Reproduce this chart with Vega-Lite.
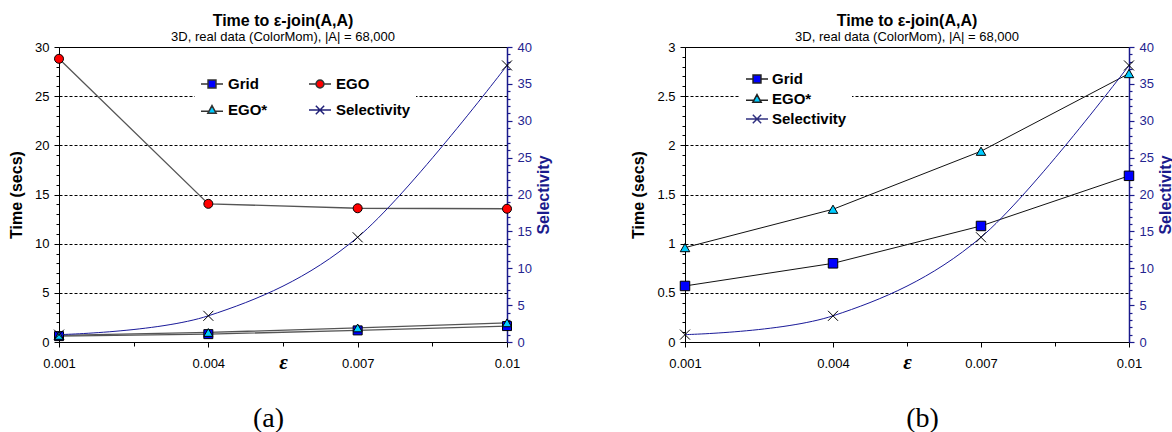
{
  "$schema": "https://vega.github.io/schema/vega-lite/v6.json",
  "background": "white",
  "padding": {"left": 8, "top": 12, "right": 0, "bottom": 0},
  "config": {
    "view": {"stroke": "black", "strokeWidth": 1},
    "font": "Liberation Sans"
  },
  "datasets": {
    "a": [
      {"eps": 0.001, "series": "Grid", "value": 0.6},
      {"eps": 0.004, "series": "Grid", "value": 0.8},
      {"eps": 0.007, "series": "Grid", "value": 1.18},
      {"eps": 0.01, "series": "Grid", "value": 1.62},
      {"eps": 0.001, "series": "EGO", "value": 28.8},
      {"eps": 0.004, "series": "EGO", "value": 14.05},
      {"eps": 0.007, "series": "EGO", "value": 13.6},
      {"eps": 0.01, "series": "EGO", "value": 13.55},
      {"eps": 0.001, "series": "EGO*", "value": 0.67},
      {"eps": 0.004, "series": "EGO*", "value": 0.97},
      {"eps": 0.007, "series": "EGO*", "value": 1.43},
      {"eps": 0.01, "series": "EGO*", "value": 1.95},
      {"eps": 0.001, "series": "Selectivity", "value": 1.0},
      {"eps": 0.004, "series": "Selectivity", "value": 3.55},
      {"eps": 0.007, "series": "Selectivity", "value": 14.2},
      {"eps": 0.01, "series": "Selectivity", "value": 37.5}
    ],
    "b": [
      {"eps": 0.001, "series": "Grid", "value": 0.57},
      {"eps": 0.004, "series": "Grid", "value": 0.8},
      {"eps": 0.007, "series": "Grid", "value": 1.18},
      {"eps": 0.01, "series": "Grid", "value": 1.69},
      {"eps": 0.001, "series": "EGO*", "value": 0.96},
      {"eps": 0.004, "series": "EGO*", "value": 1.35},
      {"eps": 0.007, "series": "EGO*", "value": 1.94},
      {"eps": 0.01, "series": "EGO*", "value": 2.73},
      {"eps": 0.001, "series": "Selectivity", "value": 1.0},
      {"eps": 0.004, "series": "Selectivity", "value": 3.55},
      {"eps": 0.007, "series": "Selectivity", "value": 14.2},
      {"eps": 0.01, "series": "Selectivity", "value": 37.5}
    ]
  },
  "spacing": 78,
  "resolve": {"scale": {"x": "independent", "y": "independent", "shape": "independent", "fill": "independent", "stroke": "independent"}, "legend": {"shape": "independent", "fill": "independent", "stroke": "independent"}},
  "hconcat": [
    {
      "width": 448,
      "height": 295,
      "title": {"text": "Time to ε-join(A,A)", "subtitle": "3D, real data (ColorMom), |A| = 68,000", "anchor": "middle", "font": "Liberation Sans", "fontSize": 16, "fontWeight": "bold", "color": "black", "subtitleFont": "Liberation Sans", "subtitleFontSize": 13, "subtitleColor": "black", "subtitlePadding": 2, "offset": -3},
      "data": {"name": "a"},
      "layer": [
        {
          "transform": [{"filter": "datum.series !== 'Selectivity'"}],
          "encoding": {
            "x": {
              "field": "eps", "type": "quantitative",
              "scale": {"domain": [0.001, 0.01], "nice": false, "zero": false},
              "axis": {
                "orient": "bottom",
                "values": [0.001, 0.0025, 0.004, 0.0055, 0.007, 0.0085, 0.01],
                "labelExpr": "(datum.value === 0.0025 || datum.value === 0.0055 || datum.value === 0.0085) ? '' : format(datum.value, '.3~f')",
                "tickSize": {"condition": {"test": "datum.value === 0.0025 || datum.value === 0.0055 || datum.value === 0.0085", "value": 4}, "value": 5},
                "grid": false, "labelFlush": false, "labelOverlap": false,
                "domainColor": "black", "tickColor": "black", "labelColor": "black",
                "labelFont": "Liberation Sans", "labelFontSize": 13, "labelPadding": 10,
                "title": "ε", "titleFont": "Liberation Serif", "titleFontSize": 21, "titleFontStyle": "italic", "titleFontWeight": "bold", "titleColor": "black",
                "titleX": 224, "titleY": 26, "titleBaseline": "alphabetic"
              }
            },
            "y": {
              "field": "value", "type": "quantitative",
              "scale": {"domain": [0, 30], "nice": false},
              "axis": {
                "orient": "left",
                "values": [0,1,2,3,4,5,6,7,8,9,10,11,12,13,14,15,16,17,18,19,20,21,22,23,24,25,26,27,28,29,30],
                "labelExpr": "datum.value % 5 === 0 ? format(datum.value, '~g') : ''",
                "tickSize": {"condition": {"test": "datum.value % 5 === 0", "value": 5}, "value": 3},
                "grid": true, "gridColor": "black", "gridDash": [3, 2], "gridWidth": 1,
                "gridOpacity": {"condition": {"test": "datum.value % 5 === 0 && datum.value > 0 && datum.value < 30", "value": 1}, "value": 0},
                "labelOverlap": false, "labelFlush": false,
                "domainColor": "black", "tickColor": "black", "labelColor": "black",
                "labelFont": "Liberation Sans", "labelFontSize": 13, "labelPadding": 5,
                "title": "Time (secs)", "titleFont": "Liberation Sans", "titleFontSize": 16, "titleFontWeight": "bold", "titleColor": "black", "titlePadding": 10
              }
            }
          },
          "layer": [
            {"mark": {"type": "line", "stroke": "#555555", "strokeWidth": 1.3}, "encoding": {"detail": {"field": "series", "type": "nominal"}}},
            {
              "mark": {"type": "point", "filled": true, "stroke": "black", "strokeWidth": 1, "size": 81, "opacity": 1},
              "encoding": {
                "shape": {"field": "series", "type": "nominal", "scale": {"domain": ["Grid", "EGO*", "EGO"], "range": ["square", "triangle-up", "circle"]}, "legend": null},
                "fill": {"field": "series", "type": "nominal", "scale": {"domain": ["Grid", "EGO*", "EGO"], "range": ["#0000ff", "#00ccff", "#ff0000"]}, "legend": null}
              }
            }
          ]
        },
        {
          "transform": [{"filter": "datum.series === 'Selectivity'"}],
          "encoding": {
            "x": {
              "field": "eps", "type": "quantitative",
              "scale": {"domain": [0.001, 0.01], "nice": false, "zero": false},
              "axis": {
                "orient": "bottom", "labels": false, "ticks": false, "domain": false, "grid": false,
                "title": "(a)", "titleFont": "Liberation Serif", "titleFontSize": 28, "titleFontWeight": "normal", "titleColor": "black",
                "titleX": 209, "titleY": 76, "titleBaseline": "middle"
              }
            },
            "y": {
              "field": "value", "type": "quantitative",
              "scale": {"domain": [0, 40], "nice": false},
              "axis": {
                "orient": "right",
                "values": [0,1,2,3,4,5,6,7,8,9,10,11,12,13,14,15,16,17,18,19,20,21,22,23,24,25,26,27,28,29,30,31,32,33,34,35,36,37,38,39,40],
                "labelExpr": "datum.value % 5 === 0 ? format(datum.value, '~g') : ''",
                "tickSize": {"condition": {"test": "datum.value % 5 === 0", "value": 5}, "value": 3},
                "grid": false, "labelOverlap": false, "labelFlush": false,
                "domainColor": "#1a1a8c", "domainWidth": 1.5, "tickColor": "#1a1a8c", "tickWidth": 1.2, "labelColor": "#24248f",
                "labelFont": "Liberation Sans", "labelFontSize": 13, "labelPadding": 5,
                "title": "Selectivity", "titleFont": "Liberation Sans", "titleFontSize": 16, "titleFontWeight": "bold", "titleColor": "#1a1a8c",
                "titleAngle": 270, "titleBaseline": "top", "titlePadding": 4
              }
            }
          },
          "layer": [
            {"mark": {"type": "line", "stroke": "#1a1a99", "strokeWidth": 1, "interpolate": "cardinal"}, "encoding": {}},
            {"mark": {"type": "point", "shape": "M-1,-1L1,1M-1,1L1,-1", "filled": false, "stroke": "black", "strokeWidth": 1, "size": 100, "opacity": 1}, "encoding": {}}
          ]
        },
        {
          "transform": [{"filter": "false"}],
          "mark": {"type": "point", "filled": true, "strokeWidth": 1, "opacity": 1},
          "encoding": {
            "shape": {
              "field": "series", "type": "nominal",
              "scale": {"domain": ["Grid", "EGO*", "EGO", "Selectivity"], "range": [
                "M-1,0H-0.36M0.36,0H1M-0.36,-0.36H0.36V0.36H-0.36Z",
                "M-1,0.12H-0.3M0.3,0.12H1M0,-0.4L0.38,0.3H-0.38Z",
                "M-1,0H-0.36M0.36,0H1M-0.36,0A0.36,0.36 0 1 0 0.36,0A0.36,0.36 0 1 0 -0.36,0Z",
                "M-1,0H1M-0.38,-0.38L0.38,0.38M-0.38,0.38L0.38,-0.38"
              ]},
              "legend": {
                "title": null, "orient": "none", "legendX": 136, "legendY": 20, "columns": 2, "columnPadding": 38, "rowPadding": 6,
                "padding": 5, "fillColor": "white", "symbolSize": 484, "symbolOpacity": 1, "labelOffset": 4,
                "labelFont": "Liberation Sans", "labelFontSize": 15, "labelFontWeight": "bold", "labelColor": "black", "labelLimit": 300
              }
            },
            "fill": {
              "field": "series", "type": "nominal",
              "scale": {"domain": ["Grid", "EGO*", "EGO", "Selectivity"], "range": ["#0000ff", "#00ccff", "#ff0000", "transparent"]},
              "legend": {
                "title": null, "orient": "none", "legendX": 136, "legendY": 20, "columns": 2, "columnPadding": 38, "rowPadding": 6,
                "padding": 5, "fillColor": "white", "symbolSize": 484, "symbolOpacity": 1, "labelOffset": 4,
                "labelFont": "Liberation Sans", "labelFontSize": 15, "labelFontWeight": "bold", "labelColor": "black", "labelLimit": 300
              }
            },
            "stroke": {
              "field": "series", "type": "nominal",
              "scale": {"domain": ["Grid", "EGO*", "EGO", "Selectivity"], "range": ["#333333", "#333333", "#333333", "#202078"]},
              "legend": {
                "title": null, "orient": "none", "legendX": 136, "legendY": 20, "columns": 2, "columnPadding": 38, "rowPadding": 6,
                "padding": 5, "fillColor": "white", "symbolSize": 484, "symbolOpacity": 1, "labelOffset": 4,
                "labelFont": "Liberation Sans", "labelFontSize": 15, "labelFontWeight": "bold", "labelColor": "black", "labelLimit": 300
              }
            }
          }
        }
      ],
      "resolve": {"scale": {"y": "independent", "shape": "independent", "fill": "independent", "stroke": "independent"}, "axis": {"x": "independent"}}
    },
    {
      "width": 444,
      "height": 295,
      "title": {"text": "Time to ε-join(A,A)", "subtitle": "3D, real data (ColorMom), |A| = 68,000", "anchor": "middle", "font": "Liberation Sans", "fontSize": 16, "fontWeight": "bold", "color": "black", "subtitleFont": "Liberation Sans", "subtitleFontSize": 13, "subtitleColor": "black", "subtitlePadding": 2, "offset": -3},
      "data": {"name": "b"},
      "layer": [
        {
          "transform": [{"filter": "datum.series !== 'Selectivity'"}],
          "encoding": {
            "x": {
              "field": "eps", "type": "quantitative",
              "scale": {"domain": [0.001, 0.01], "nice": false, "zero": false},
              "axis": {
                "orient": "bottom",
                "values": [0.001, 0.0025, 0.004, 0.0055, 0.007, 0.0085, 0.01],
                "labelExpr": "(datum.value === 0.0025 || datum.value === 0.0055 || datum.value === 0.0085) ? '' : format(datum.value, '.3~f')",
                "tickSize": {"condition": {"test": "datum.value === 0.0025 || datum.value === 0.0055 || datum.value === 0.0085", "value": 4}, "value": 5},
                "grid": false, "labelFlush": false, "labelOverlap": false,
                "domainColor": "black", "tickColor": "black", "labelColor": "black",
                "labelFont": "Liberation Sans", "labelFontSize": 13, "labelPadding": 10,
                "title": "ε", "titleFont": "Liberation Serif", "titleFontSize": 21, "titleFontStyle": "italic", "titleFontWeight": "bold", "titleColor": "black",
                "titleX": 222, "titleY": 26, "titleBaseline": "alphabetic"
              }
            },
            "y": {
              "field": "value", "type": "quantitative",
              "scale": {"domain": [0, 3], "nice": false},
              "axis": {
                "orient": "left",
                "values": [0,0.1,0.2,0.3,0.4,0.5,0.6,0.7,0.8,0.9,1,1.1,1.2,1.3,1.4,1.5,1.6,1.7,1.8,1.9,2,2.1,2.2,2.3,2.4,2.5,2.6,2.7,2.8,2.9,3],
                "labelExpr": "round(datum.value * 10) % 5 === 0 ? format(datum.value, '~g') : ''",
                "tickSize": {"condition": {"test": "round(datum.value * 10) % 5 === 0", "value": 5}, "value": 3},
                "grid": true, "gridColor": "black", "gridDash": [3, 2], "gridWidth": 1,
                "gridOpacity": {"condition": {"test": "round(datum.value * 10) % 5 === 0 && datum.value > 0.05 && datum.value < 2.95", "value": 1}, "value": 0},
                "labelOverlap": false, "labelFlush": false,
                "domainColor": "black", "tickColor": "black", "labelColor": "black",
                "labelFont": "Liberation Sans", "labelFontSize": 13, "labelPadding": 5,
                "title": "Time (secs)", "titleFont": "Liberation Sans", "titleFontSize": 16, "titleFontWeight": "bold", "titleColor": "black", "titlePadding": 10
              }
            }
          },
          "layer": [
            {"mark": {"type": "line", "stroke": "#111111", "strokeWidth": 1}, "encoding": {"detail": {"field": "series", "type": "nominal"}}},
            {
              "mark": {"type": "point", "filled": true, "stroke": "black", "strokeWidth": 1, "size": 90, "opacity": 1},
              "encoding": {
                "shape": {"field": "series", "type": "nominal", "scale": {"domain": ["Grid", "EGO*"], "range": ["square", "triangle-up"]}, "legend": null},
                "fill": {"field": "series", "type": "nominal", "scale": {"domain": ["Grid", "EGO*"], "range": ["#0000ff", "#00ccff"]}, "legend": null}
              }
            }
          ]
        },
        {
          "transform": [{"filter": "datum.series === 'Selectivity'"}],
          "encoding": {
            "x": {
              "field": "eps", "type": "quantitative",
              "scale": {"domain": [0.001, 0.01], "nice": false, "zero": false},
              "axis": {
                "orient": "bottom", "labels": false, "ticks": false, "domain": false, "grid": false,
                "title": "(b)", "titleFont": "Liberation Serif", "titleFontSize": 28, "titleFontWeight": "normal", "titleColor": "black",
                "titleX": 237, "titleY": 76, "titleBaseline": "middle"
              }
            },
            "y": {
              "field": "value", "type": "quantitative",
              "scale": {"domain": [0, 40], "nice": false},
              "axis": {
                "orient": "right",
                "values": [0,1,2,3,4,5,6,7,8,9,10,11,12,13,14,15,16,17,18,19,20,21,22,23,24,25,26,27,28,29,30,31,32,33,34,35,36,37,38,39,40],
                "labelExpr": "datum.value % 5 === 0 ? format(datum.value, '~g') : ''",
                "tickSize": {"condition": {"test": "datum.value % 5 === 0", "value": 5}, "value": 3},
                "grid": false, "labelOverlap": false, "labelFlush": false,
                "domainColor": "#1a1a8c", "domainWidth": 1.5, "tickColor": "#1a1a8c", "tickWidth": 1.2, "labelColor": "#24248f",
                "labelFont": "Liberation Sans", "labelFontSize": 13, "labelPadding": 5,
                "title": "Selectivity", "titleFont": "Liberation Sans", "titleFontSize": 16, "titleFontWeight": "bold", "titleColor": "#1a1a8c",
                "titleAngle": 270, "titleBaseline": "top", "titlePadding": 4
              }
            }
          },
          "layer": [
            {"mark": {"type": "line", "stroke": "#1a1a99", "strokeWidth": 1, "interpolate": "cardinal"}, "encoding": {}},
            {"mark": {"type": "point", "shape": "M-1,-1L1,1M-1,1L1,-1", "filled": false, "stroke": "black", "strokeWidth": 1, "size": 100, "opacity": 1}, "encoding": {}}
          ]
        },
        {
          "transform": [{"filter": "false"}],
          "mark": {"type": "point", "filled": true, "strokeWidth": 1, "opacity": 1},
          "encoding": {
            "shape": {
              "field": "series", "type": "nominal",
              "scale": {"domain": ["Grid", "EGO*", "Selectivity"], "range": [
                "M-1,0H-0.36M0.36,0H1M-0.36,-0.36H0.36V0.36H-0.36Z",
                "M-1,0.12H-0.3M0.3,0.12H1M0,-0.4L0.38,0.3H-0.38Z",
                "M-1,0H1M-0.38,-0.38L0.38,0.38M-0.38,0.38L0.38,-0.38"
              ]},
              "legend": {
                "title": null, "orient": "none", "legendX": 55, "legendY": 15, "columns": 1, "rowPadding": -1,
                "padding": 5, "fillColor": "white", "symbolSize": 484, "symbolOpacity": 1, "labelOffset": 3,
                "labelFont": "Liberation Sans", "labelFontSize": 15, "labelFontWeight": "bold", "labelColor": "black", "labelLimit": 300
              }
            },
            "fill": {
              "field": "series", "type": "nominal",
              "scale": {"domain": ["Grid", "EGO*", "Selectivity"], "range": ["#0000ff", "#00ccff", "transparent"]},
              "legend": {
                "title": null, "orient": "none", "legendX": 55, "legendY": 15, "columns": 1, "rowPadding": -1,
                "padding": 5, "fillColor": "white", "symbolSize": 484, "symbolOpacity": 1, "labelOffset": 3,
                "labelFont": "Liberation Sans", "labelFontSize": 15, "labelFontWeight": "bold", "labelColor": "black", "labelLimit": 300
              }
            },
            "stroke": {
              "field": "series", "type": "nominal",
              "scale": {"domain": ["Grid", "EGO*", "Selectivity"], "range": ["#222222", "#222222", "#303080"]},
              "legend": {
                "title": null, "orient": "none", "legendX": 55, "legendY": 15, "columns": 1, "rowPadding": -1,
                "padding": 5, "fillColor": "white", "symbolSize": 484, "symbolOpacity": 1, "labelOffset": 3,
                "labelFont": "Liberation Sans", "labelFontSize": 15, "labelFontWeight": "bold", "labelColor": "black", "labelLimit": 300
              }
            }
          }
        }
      ],
      "resolve": {"scale": {"y": "independent", "shape": "independent", "fill": "independent", "stroke": "independent"}, "axis": {"x": "independent"}}
    }
  ]
}
